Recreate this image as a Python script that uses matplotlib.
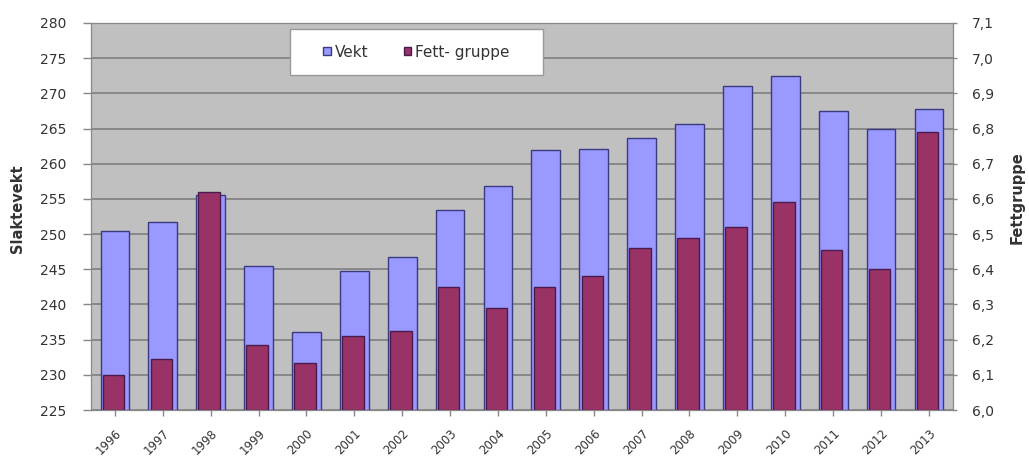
import matplotlib
matplotlib.use("Agg")
import matplotlib.pyplot as plt
from matplotlib.patches import Rectangle
import numpy as np

years = ["1996", "1997", "1998", "1999", "2000", "2001", "2002", "2003", "2004",
         "2005", "2006", "2007", "2008", "2009", "2010", "2011", "2012", "2013"]
vekt = [250.4, 251.7, 255.5, 245.4, 236.1, 244.7, 246.8, 253.4, 256.8,
        262.0, 262.1, 263.7, 265.6, 271.0, 272.4, 267.5, 264.9, 267.8]
fett = [6.10, 6.145, 6.62, 6.185, 6.135, 6.21, 6.225, 6.35, 6.29,
        6.35, 6.38, 6.46, 6.49, 6.52, 6.59, 6.455, 6.40, 6.79]

left_ticks = list(range(225, 281, 5))
right_ticks = [6.0, 6.1, 6.2, 6.3, 6.4, 6.5, 6.6, 6.7, 6.8, 6.9, 7.0, 7.1]

plt.rcParams["font.family"] = ["DejaVu Sans"]
TXT = "#333333"

fig = plt.figure(figsize=(10.29, 4.57), dpi=100)
ax = fig.add_axes([0.0884, 0.1028, 0.8376, 0.8469])
ax2 = ax.twinx()

x = np.arange(len(years))
ax.set_facecolor("#c0c0c0")
ax.bar(x, [v - 225 for v in vekt], bottom=225, width=0.6, color="#9999ff",
       edgecolor="#3a3a80", linewidth=1.0, zorder=2, label="Vekt")
ax2.bar(x - 0.03, [f - 6.0 for f in fett], bottom=6.0, width=0.45, color="#993366",
        edgecolor="#4a1a50", linewidth=1.0, zorder=2, label="Fett- gruppe")

ax.set_ylim(225, 280)
ax2.set_ylim(6.0, 7.1)
ax.set_xlim(-0.5, len(years) - 0.5)
ax.set_yticks(left_ticks)
ax2.set_yticks(right_ticks)
ax2.set_yticklabels([f"{t:.1f}".replace(".", ",") for t in right_ticks])
ax.set_xticks(x)
ax.set_xticklabels(years, rotation=45, ha="right", va="top", rotation_mode="anchor")

ax.yaxis.grid(True, color="#7f7f7f", linewidth=1.2, zorder=0)
ax.set_axisbelow(True)

for a in (ax, ax2):
    for s in a.spines.values():
        s.set_color("#888888")
ax.tick_params(axis="y", colors="#888888", labelcolor=TXT, labelsize=10,
               length=6, width=1, pad=12)
ax2.tick_params(axis="y", colors="#888888", labelcolor=TXT, labelsize=10,
                length=3, width=1, pad=11)
ax.tick_params(axis="x", colors="#888888", labelcolor=TXT, labelsize=8.5,
               length=4, width=1, pad=8)

ax.set_ylabel("Slaktevekt", fontsize=10.5, fontweight="bold", color=TXT)
ax.yaxis.set_label_coords(-0.076, 0.52)
ax2.set_ylabel("Fettgruppe", fontsize=10.5, fontweight="bold", color=TXT)
ax2.yaxis.set_label_coords(1.066, 0.55)

# legend box as drawn in the original
box = Rectangle((0.2309, 0.8656), 0.2935, 0.1189, transform=ax2.transAxes,
                facecolor="white", edgecolor="#999999", linewidth=1, zorder=5)
ax2.add_patch(box)
h1, l1 = ax.get_legend_handles_labels()
h2, l2 = ax2.get_legend_handles_labels()
leg = ax2.legend(h1 + h2, l1 + l2, ncol=2, loc="center",
                 bbox_to_anchor=(0.3776, 0.925), fontsize=11, frameon=False,
                 handlelength=0.5, handleheight=0.5, handletextpad=0.25,
                 columnspacing=2.3)
leg.set_zorder(6)
for t in leg.get_texts():
    t.set_color(TXT)

fig.savefig("out.png", dpi=100)
